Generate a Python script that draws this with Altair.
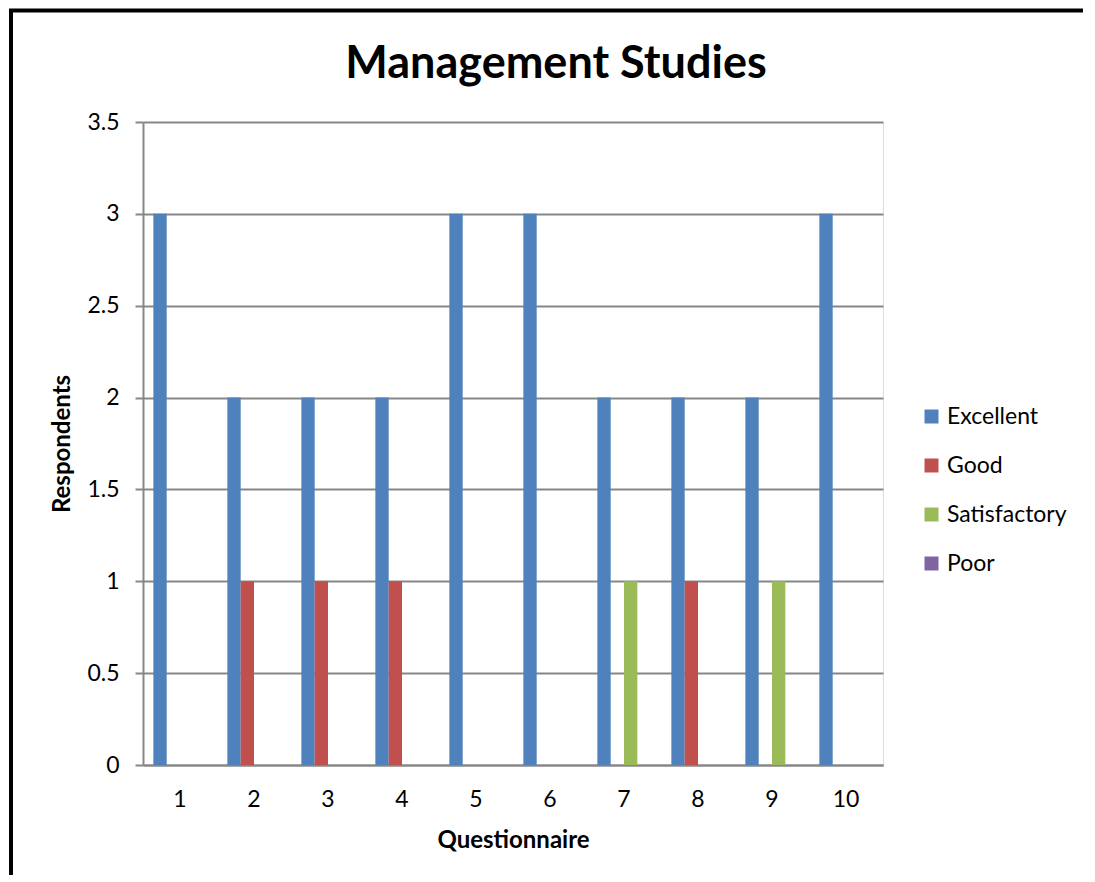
import altair as alt
import pandas as pd

questions = [1, 2, 3, 4, 5, 6, 7, 8, 9, 10]
ratings = ["Excellent", "Good", "Satisfactory", "Poor"]
excellent = [3, 2, 2, 2, 3, 3, 2, 2, 2, 3]
good = [0, 1, 1, 1, 0, 0, 0, 1, 0, 0]
satisfactory = [0, 0, 0, 0, 0, 0, 1, 0, 1, 0]
poor = [0, 0, 0, 0, 0, 0, 0, 0, 0, 0]
colors = ["#4F81BD", "#C0504D", "#9BBB59", "#8064A2"]
chart_title = "Management Studies"

rows = []
for name, vals in zip(ratings, [excellent, good, satisfactory, poor]):
    for q, v in zip(questions, vals):
        rows.append({"Questionnaire": q, "Rating": name, "Respondents": v})
df = pd.DataFrame(rows)

FONT = "Lato"
GRID = "#878787"

bars = alt.Chart(df).mark_bar().encode(
    x=alt.X("Questionnaire:O",
            scale=alt.Scale(paddingInner=0.28, paddingOuter=0.14),
            axis=alt.Axis(title="Questionnaire", labelAngle=0, ticks=False,
                          labelFontSize=23, labelPadding=23, labelColor="black",
                          labelFont=FONT, domainColor=GRID, domainWidth=2,
                          titleFont=FONT, titleFontSize=24, titleFontWeight="bold",
                          titlePadding=17, titleColor="black", grid=False)),
    xOffset=alt.XOffset("Rating:N", sort=ratings),
    y=alt.Y("Respondents:Q",
            scale=alt.Scale(domain=[0, 3.5]),
            axis=alt.Axis(title="Respondents", values=[0, 0.5, 1, 1.5, 2, 2.5, 3, 3.5],
                          format="~g", labelFontSize=23, labelFont=FONT, labelColor="black",
                          labelPadding=16, tickSize=8, tickColor=GRID, tickWidth=2,
                          domainColor=GRID, domainWidth=2, gridColor=GRID, gridWidth=2,
                          titleFont=FONT, titleFontSize=24, titleFontWeight="bold",
                          titlePadding=12, titleColor="black")),
    color=alt.Color("Rating:N", sort=ratings,
                    scale=alt.Scale(domain=ratings, range=colors),
                    legend=alt.Legend(title=None, orient="none", legendX=777, legendY=283,
                                      symbolType="square", symbolSize=196,
                                      symbolStrokeWidth=0, labelFontSize=23,
                                      labelFont=FONT, labelColor="black",
                                      rowPadding=25, labelOffset=4)),
)

frame_data = alt.Data(values=[{"a": 1}])
left_border = alt.Chart(frame_data).mark_rule(color="black", strokeWidth=4).encode(
    x=alt.value(-132), y=alt.value(-113), y2=alt.value(790))
top_border = alt.Chart(frame_data).mark_rule(color="black", strokeWidth=4).encode(
    x=alt.value(-134), x2=alt.value(990), y=alt.value(-111.5))
title_text = alt.Chart(alt.Data(values=[{"t": chart_title}])).mark_text(
    font=FONT, fontSize=45, fontWeight="bold", color="black",
    align="center", baseline="alphabetic").encode(
    text="t:N", x=alt.value(413), y=alt.value(-44))

chart = alt.layer(bars, left_border, top_border, title_text).properties(
    width=740, height=643,
    autosize=alt.AutoSizeParams(type="none"),
    padding={"left": 135, "top": 114, "right": 200, "bottom": 110},
).configure_view(stroke=None).configure(background="white")

chart.save("out.html", embed_options={"renderer": "svg", "actions": False})
